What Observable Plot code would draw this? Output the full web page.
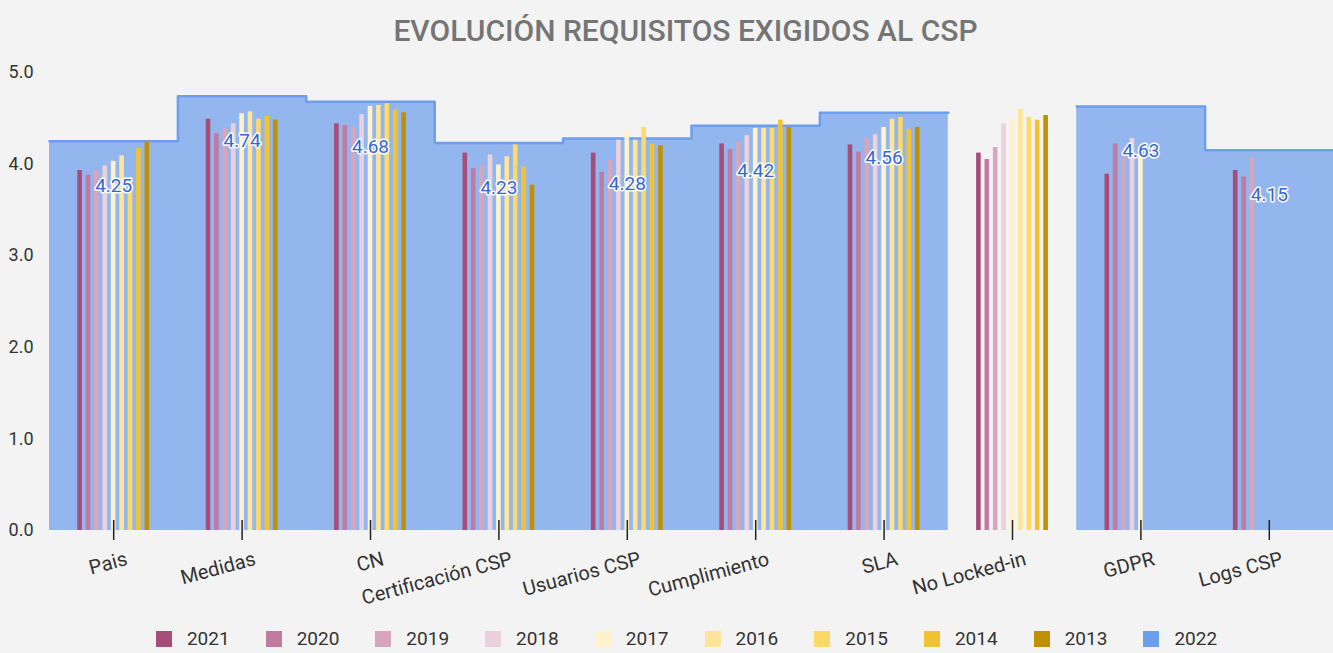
<!DOCTYPE html>
<html><head><meta charset="utf-8">
<script src="https://cdn.jsdelivr.net/npm/d3@7"></script>
<script src="https://cdn.jsdelivr.net/npm/@observablehq/plot@0.6"></script>
<style>
html,body{margin:0;padding:0;background:#f3f3f3;}
body{width:1333px;height:653px;overflow:hidden;font-family:Roboto,"Liberation Sans",sans-serif;}
#title{height:55px;box-sizing:border-box;padding-top:15px;padding-left:38px;text-align:center;font-size:30px;font-weight:500;color:#757575;line-height:32px;}
#chart svg{display:block;}
#legend{display:flex;justify-content:center;align-items:center;height:38px;padding-top:9px;padding-left:40px;box-sizing:border-box;font-size:19px;color:#333;}
#legend .item{display:flex;align-items:center;margin:0 18px;}
#legend .sw{width:16px;height:16px;margin-right:15px;}
</style></head><body>
<div id="title">EVOLUCIÓN REQUISITOS EXIGIDOS AL CSP</div>
<div id="chart"></div>
<div id="legend"></div>
<script>
const categories = ["Pais","Medidas","CN","Certificación CSP","Usuarios CSP","Cumplimiento","SLA","No Locked-in","GDPR","Logs CSP"];
const years = ["2021","2020","2019","2018","2017","2016","2015","2014","2013"];
const yearColors = ["#a64d79","#c27ba0","#d5a6bd","#ead1dc","#fff2cc","#ffe599","#ffd966","#f1c232","#bf9000"];
const color2022 = "#6d9eeb";
const v2022 = [4.25,4.74,4.68,4.23,4.28,4.42,4.56,null,4.63,4.15];
const v2021 = [3.93,4.49,4.44,4.12,4.12,4.22,4.21,4.12,3.89,3.93];
const v2020 = [3.88,4.33,4.42,3.95,3.91,4.16,4.13,4.05,4.22,3.86];
const v2019 = [3.93,4.39,4.40,3.98,4.04,4.24,4.28,4.18,4.18,4.07];
const v2018 = [3.98,4.44,4.54,4.10,4.26,4.31,4.32,4.44,4.28,null];
const v2017 = [4.03,4.55,4.63,3.99,4.37,4.39,4.40,4.50,4.15,null];
const v2016 = [4.09,4.57,4.64,4.08,4.26,4.39,4.49,4.60,null,null];
const v2015 = [3.85,4.49,4.66,4.21,4.40,4.39,4.51,4.51,null,null];
const v2014 = [4.17,4.52,4.59,3.97,4.22,4.48,4.38,4.48,null,null];
const v2013 = [4.24,4.48,4.56,3.77,4.20,4.40,4.40,4.53,null,null];
const yTicks = [0,1,2,3,4,5];

const series = [v2021,v2020,v2019,v2018,v2017,v2016,v2015,v2014,v2013];
const bars = [];
series.forEach((vals,k) => vals.forEach((v,i) => { if (v != null) bars.push({cat:i, k, year:years[k], v}); }));
const step = [];
v2022.forEach((v,i) => {
  if (v == null) step.push({x:i, y:NaN});
  else { step.push({x:i-0.5, y:v}); step.push({x:i+0.5, y:v}); }
});
const labels = v2022.map((v,i) => ({i, v})).filter(d => d.v != null);

const pitch = 8.4/128.4, barW = 4.6/128.4;

const chart = Plot.plot({
  width: 1333, height: 560,
  marginTop: 17, marginBottom: 85, marginLeft: 49, marginRight: 0,
  style: {background: "transparent", fontFamily: "Roboto, 'Liberation Sans', sans-serif", color: "#333"},
  x: {type: "linear", domain: [-0.5, 9.5], axis: null},
  y: {domain: [0, 5], axis: null},
  color: {domain: years, range: yearColors},
  marks: [
    Plot.area(step, {x1: "x", y1: 0, y2: "y", fill: color2022, fillOpacity: 0.72}),
    Plot.line(step, {x: "x", y: "y", stroke: color2022, strokeWidth: 2.5, strokeLinejoin: "round"}),
    Plot.rect(bars, {
      x1: d => d.cat + (d.k - 4) * pitch - barW/2,
      x2: d => d.cat + (d.k - 4) * pitch + barW/2,
      y1: 0, y2: "v", fill: "year"
    }),
    Plot.ruleX(d3.range(categories.length), {x: d => d, y1: 0, y2: 0, insetTop: -10, insetBottom: -10, stroke: "#222", strokeWidth: 1.5}),
    Plot.text(labels, {x: "i", y: "v", text: d => d.v.toFixed(2), dy: 45, fill: "#3467d0", stroke: "white", strokeWidth: 3, fontSize: 19}),
    Plot.axisY({ticks: yTicks, tickFormat: d3.format(".1f"), tickSize: 0, tickPadding: 16, fontSize: 18}),
    Plot.axisX({ticks: d3.range(categories.length), tickFormat: i => categories[i], tickSize: 0, tickRotate: -15, tickPadding: 28, dx: 13, fontSize: 20})
  ]
});
document.getElementById("chart").appendChild(chart);

const legend = document.getElementById("legend");
[...years.map((y,k) => [y, yearColors[k]]), ["2022", color2022]].forEach(([y,c]) => {
  const it = document.createElement("div"); it.className = "item";
  const sw = document.createElement("div"); sw.className = "sw"; sw.style.background = c;
  const t = document.createElement("span"); t.textContent = y;
  it.appendChild(sw); it.appendChild(t); legend.appendChild(it);
});
</script>
</body></html>
